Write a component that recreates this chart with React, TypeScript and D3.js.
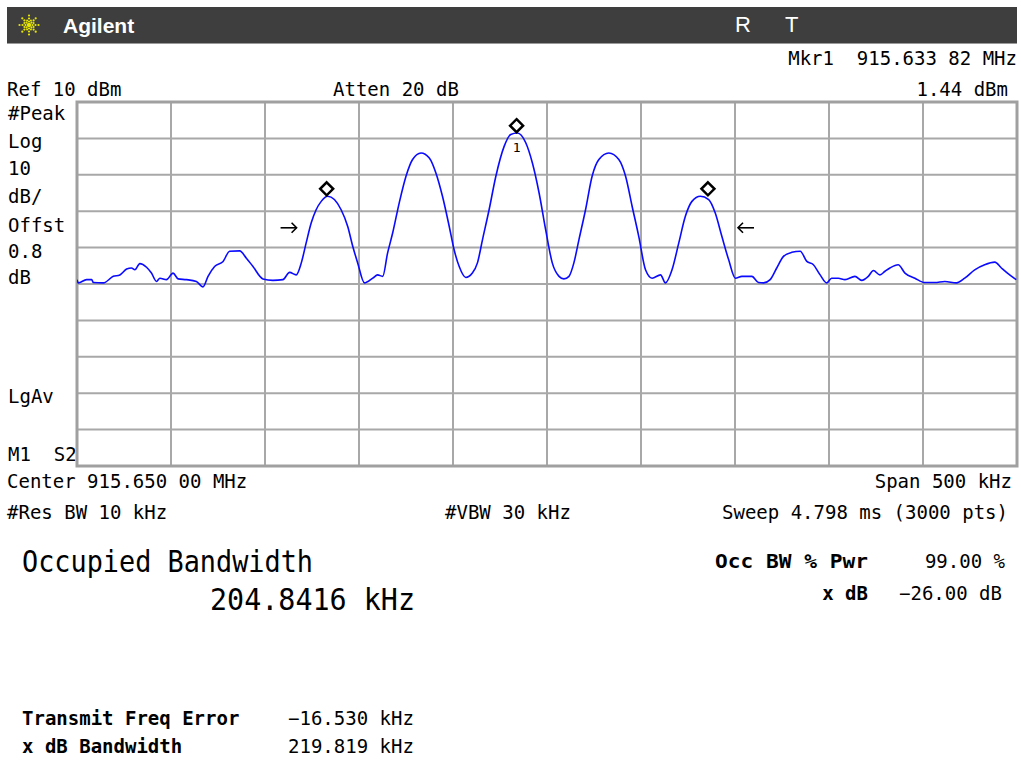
import React, { useEffect } from 'react';
import * as d3 from 'd3';

// ---- data (frequency offset from 915.400 MHz start, kHz ; level dBm) ----
const traceFreqKHz = [
  0, 0.7, 5.1, 7.8, 8.7, 14.0, 19.3, 22.8, 26.4, 29.0, 30.8, 33.4, 37.0, 39.6, 42.3, 44.1, 47.6, 51.1, 53.8, 58.2,
  63.5, 67.0, 69.7, 73.2, 77.7, 81.2, 86.5, 90.1, 93.6, 98.9, 104.2, 109.5, 113.1, 116.6, 119.3, 121.9, 124.6, 127.2,
  129.9, 133.4, 136.9, 140.5, 144.0, 146.7, 149.3, 152.9, 157.3, 159.9, 162.6, 165.2, 167.9, 171.4, 175.0, 178.5,
  183.0, 187.4, 190.9, 194.4, 198.0, 200.6, 203.3, 206.8, 210.3, 213.0, 215.7, 219.2, 222.8, 227.2, 230.7, 234.2,
  238.7, 242.2, 245.8, 249.3, 252.8, 256.4, 259.0, 261.7, 264.3, 267.0, 270.5, 274.0, 277.6, 282.9, 288.2, 291.8,
  295.3, 298.8, 302.4, 305.9, 310.4, 313.0, 316.5, 320.1, 323.6, 327.1, 331.6, 336.0, 339.5, 343.0, 346.6, 350.2,
  353.7, 359.0, 362.5, 365.2, 368.7, 372.2, 375.8, 380.2, 384.7, 388.2, 391.7, 395.3, 398.8, 401.4, 405.0, 408.5,
  413.8, 417.4, 420.9, 423.6, 427.1, 429.8, 432.4, 436.8, 440.4, 445.7, 451.0, 456.3, 461.6, 467.8, 472.2, 477.5,
  482.8, 488.2, 491.7, 496.1, 499.6,
];
const traceLevelDbm = [
  -38.8, -39.7, -38.8, -38.8, -39.6, -39.7, -37.9, -37.5, -35.9, -35.6, -36.1, -34.4, -35.4, -37.0, -39.3, -38.4, -38.8, -37.0, -38.6, -38.8,
  -39.3, -40.8, -37.9, -35.2, -33.8, -31.0, -30.9, -32.9, -35.2, -38.6, -39.0, -38.8, -36.8, -37.5, -34.2, -28.7, -23.2, -19.6,
  -17.3, -15.9, -16.8, -19.6, -24.2, -29.7, -34.2, -39.7, -38.4, -37.5, -37.9, -31.5, -26.0, -17.7, -10.4, -5.8,
  -4.0, -5.4, -9.5, -15.9, -24.2, -30.6, -35.2, -38.2, -37.0, -34.2, -27.8, -19.6, -10.4, -2.2, 1.1, 1.5,
  -1.2, -6.7, -15.0, -25.1, -34.2, -37.9, -38.6, -37.9, -34.2, -27.8, -19.6, -10.4, -5.8, -4.0, -5.8, -10.4,
  -18.7, -26.9, -36.1, -38.4, -37.5, -39.7, -36.1, -28.7, -21.4, -17.3, -15.9, -16.8, -20.5, -26.9, -33.3, -38.4,
  -37.9, -37.9, -39.6, -39.7, -38.8, -35.6, -32.4, -31.3, -31.0, -33.8, -34.7, -37.5, -39.7, -38.4, -38.4, -38.8,
  -37.9, -39.0, -37.9, -36.3, -37.5, -36.5, -35.6, -34.7, -37.0, -38.4, -39.6, -39.6, -39.3, -39.7, -38.4, -36.1,
  -34.7, -34.0, -35.6, -37.5, -38.8,
];
const markerFreqKHz = [132.8, 233.82, 335.6];
const markerLevelDbm = [-15.9, 1.44, -15.9];
const markerLabels = ['', '1', ''];
const arrowFreqKHz = [116.8, 351.6];
const arrowDir = [1, -1];
const peakDbm = 1.44;
const xDbDown = -26;

const spanKHz = 500;
const refLevelDbm = 10;
const dbPerDiv = 10;
const numDivs = 10;

const leftLabels = ['#Peak', 'Log', '10', 'dB/', 'Offst', '0.8', 'dB'];
const leftLabelY = [120, 148, 175, 203, 232, 258, 284];

const MONO = '"DejaVu Sans Mono", monospace';
const SANS = '"Liberation Sans", Arial, sans-serif';

function Logo({ cx, cy }: { cx: number; cy: number }) {
  const dots: JSX.Element[] = [];
  for (let k = 0; k < 8; k++) {
    const a = (k * Math.PI) / 4;
    [3.5, 6.5, 9.5].forEach((r, i) => {
      dots.push(
        <circle key={`${k}-${i}`} cx={cx + r * Math.cos(a)} cy={cy + r * Math.sin(a)} r={1.1} fill="#e6e600" />
      );
    });
  }
  for (let k = 0; k < 8; k++) {
    const a = (k * Math.PI) / 4 + Math.PI / 8;
    dots.push(<circle key={`m${k}`} cx={cx + 5 * Math.cos(a)} cy={cy + 5 * Math.sin(a)} r={1} fill="#e6e600" />);
  }
  dots.push(<circle key="c" cx={cx} cy={cy} r={2.2} fill="#e6e600" />);
  return <g>{dots}</g>;
}

export default function App() {
  useEffect(() => {
    document.body.style.margin = '0';
  }, []);

  const left = 77, right = 1017, top = 102, bottom = 466;
  const x = d3.scaleLinear().domain([0, spanKHz]).range([left, right]);
  const y = d3
    .scaleLinear()
    .domain([refLevelDbm, refLevelDbm - dbPerDiv * numDivs])
    .range([top, bottom]);

  const xTicks = d3.range(0, spanKHz + 0.001, spanKHz / numDivs);
  const yTicks = d3.range(0, numDivs + 1).map((i) => refLevelDbm - i * dbPerDiv);

  const pts: [number, number][] = traceFreqKHz.map((f, i) => [f, traceLevelDbm[i]]);
  const line = d3
    .line<[number, number]>()
    .x((d) => x(d[0]))
    .y((d) => y(d[1]))
    .curve(d3.curveMonotoneX);

  const arrowY = y(peakDbm + xDbDown);

  return (
    <svg width={1021} height={760} style={{ display: 'block', background: '#fff' }}>
      {/* header bar */}
      <rect x={7} y={7} width={1010} height={36} fill="#3e3e3e" />
      <line x1={7} x2={1017} y1={43.5} y2={43.5} stroke="#9a9a9a" strokeWidth={1} />
      <Logo cx={29} cy={25} />
      <text x={63} y={33} fill="#fff" fontFamily={SANS} fontWeight="bold" fontSize={21}>Agilent</text>
      <text x={735} y={32} fill="#fff" fontFamily={SANS} fontSize={22}>R</text>
      <text x={785} y={32} fill="#fff" fontFamily={SANS} fontSize={22}>T</text>

      {/* top annotations */}
      <g fontFamily={MONO} fontSize={19} fill="#000">
        <text x={1017} y={65} textAnchor="end" xmlSpace="preserve">Mkr1  915.633 82 MHz</text>
        <text x={1008} y={96} textAnchor="end">1.44 dBm</text>
        <text x={7} y={96}>Ref 10 dBm</text>
        <text x={333} y={96}>Atten 20 dB</text>
        {leftLabels.map((t, i) => (
          <text key={t + i} x={8} y={leftLabelY[i]}>{t}</text>
        ))}
        <text x={8} y={403}>LgAv</text>
        <text x={8} y={461} xmlSpace="preserve">M1  S2</text>
        <text x={7} y={488}>Center 915.650 00 MHz</text>
        <text x={1012} y={488} textAnchor="end">Span 500 kHz</text>
        <text x={7} y={519}>#Res BW 10 kHz</text>
        <text x={445} y={519}>#VBW 30 kHz</text>
        <text x={1008} y={519} textAnchor="end">Sweep 4.798 ms (3000 pts)</text>
      </g>

      {/* grid */}
      <g stroke="#a8a8a8" strokeWidth={2}>
        {xTicks.map((f) => (
          <line key={'v' + f} x1={x(f)} x2={x(f)} y1={top} y2={bottom} />
        ))}
        {yTicks.map((d) => (
          <line key={'h' + d} x1={left} x2={right} y1={y(d)} y2={y(d)} />
        ))}
      </g>
      <rect x={left} y={top} width={right - left} height={bottom - top} fill="none" stroke="#a0a0a0" strokeWidth={3} />

      {/* trace */}
      <defs>
        <clipPath id="plotClip">
          <rect x={left} y={top} width={right - left} height={bottom - top} />
        </clipPath>
      </defs>
      <path d={line(pts) || ''} fill="none" stroke="#0a0aff" strokeWidth={1.6} clipPath="url(#plotClip)" />

      {/* markers */}
      {markerFreqKHz.map((f, i) => {
        const s = 6.5;
        const cx = x(f);
        const cy = y(markerLevelDbm[i]) - s - 1;
        return (
          <g key={'m' + i}>
            <path
              d={`M${cx},${cy - s} L${cx + s},${cy} L${cx},${cy + s} L${cx - s},${cy} Z`}
              fill="#fff"
              stroke="#000"
              strokeWidth={2.5}
            />
            {markerLabels[i] && (
              <text x={cx} y={cy + 26} textAnchor="middle" fontFamily={MONO} fontSize={13} fill="#000">
                {markerLabels[i]}
              </text>
            )}
          </g>
        );
      })}

      {/* occupied BW arrows */}
      {arrowFreqKHz.map((f, i) => {
        const tip = x(f);
        const d = arrowDir[i];
        const tail = tip - d * 16;
        return (
          <g key={'a' + i} stroke="#000" strokeWidth={1.6} fill="none">
            <line x1={tail} x2={tip} y1={arrowY} y2={arrowY} />
            <polyline points={`${tip - d * 5},${arrowY - 5} ${tip},${arrowY} ${tip - d * 5},${arrowY + 5}`} />
          </g>
        );
      })}

      {/* results */}
      <g fontFamily={MONO} fill="#000">
        <text x={22} y={572} fontSize={31} textLength={291} lengthAdjust="spacingAndGlyphs">Occupied Bandwidth</text>
        <text x={210} y={610} fontSize={31} textLength={205} lengthAdjust="spacingAndGlyphs">204.8416 kHz</text>
        <text x={868} y={568} fontSize={19} fontWeight="bold" textAnchor="end" textLength={153} lengthAdjust="spacingAndGlyphs">Occ BW % Pwr</text>
        <text x={1005} y={568} fontSize={19} textAnchor="end">99.00 %</text>
        <text x={868} y={600} fontSize={19} fontWeight="bold" textAnchor="end">x dB</text>
        <text x={1002} y={600} fontSize={19} textAnchor="end">−26.00 dB</text>
        <text x={22} y={725} fontSize={19} fontWeight="bold">Transmit Freq Error</text>
        <text x={22} y={753} fontSize={19} fontWeight="bold">x dB Bandwidth</text>
        <text x={288} y={725} fontSize={19}>−16.530 kHz</text>
        <text x={288} y={753} fontSize={19}>219.819 kHz</text>
      </g>
    </svg>
  );
}
